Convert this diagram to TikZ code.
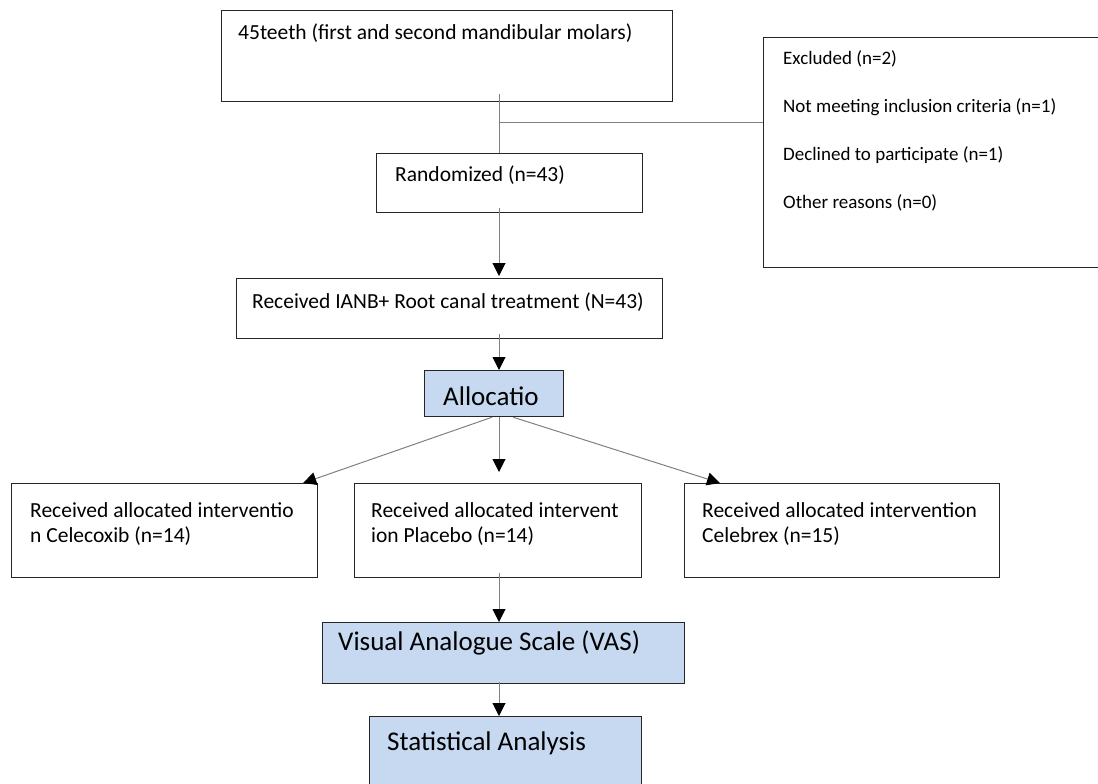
\documentclass[tikz,border=0pt]{standalone}
\usepackage{fontspec}
\setmainfont{Carlito}
\usepackage{xcolor}
\definecolor{boxblue}{HTML}{C6D9F1}
\definecolor{linegray}{HTML}{808080}
\usetikzlibrary{arrows.meta, positioning, calc}
\tikzset{%
    box/.style={%
        draw=black!85, line width=1.2pt, anchor=north west, inner sep=0
    },
    bluebox/.style={%
        box, fill=boxblue
    },
    txt/.style={%
        anchor=west, inner sep=0, align=left, font=\fontsize{21.5}{25}\selectfont
    },
    smalltxt/.style={%
        txt, font=\fontsize{19}{48}\selectfont
    },
    bigtxt/.style={%
        txt, font=\fontsize{27}{32}\selectfont
    },
    conn/.style={%
        draw=linegray, line width=1pt
    },
    flow/.style={%
        conn, -{Triangle[width=13pt, length=13pt, color=black]}
    }
}

\begin{document}
\begin{tikzpicture}[x=1pt, y=-1pt]
    \useasboundingbox (0,0) rectangle (1098,784);

    % boxes
    \node[box, minimum width=451, minimum height=91] (teeth) at (221,10) {};
    \node[box, minimum width=340, minimum height=230] (excl) at (763,37) {};
    \node[box, minimum width=266, minimum height=59] (rnd) at (376,153) {};
    \node[box, minimum width=426, minimum height=60] (ianb) at (236,278) {};
    \node[bluebox, minimum width=139, minimum height=46] (alloc) at (424,370) {};
    \node[box, minimum width=306, minimum height=94] (celecoxib) at (11,483) {};
    \node[box, minimum width=287, minimum height=94] (placebo) at (354,483) {};
    \node[box, minimum width=315, minimum height=94] (celebrex) at (684,483) {};
    \node[bluebox, minimum width=362, minimum height=61] (vas) at (322,622) {};
    \node[bluebox, minimum width=272, minimum height=90] (stat) at (369,716) {};

    % texts
    \node[txt] (teethtxt) at (238,33) {45teeth (first and second mandibular molars)};
    \node[smalltxt] (excltxt) at (783,131) {Excluded (n=2)\\Not meeting inclusion criteria (n=1)\\Declined to participate (n=1)\\Other reasons (n=0)};
    \node[txt] (rndtxt) at (395,175) {Randomized (n=43)};
    \node[txt] (ianbtxt) at (252,302) {Received IANB+ Root canal treatment (N=43)};
    \node[bigtxt] (alloctxt) at (443,396) {Allocatio};
    \node[txt] (celecoxibtxt) at (30,524.5) {Received allocated interventio\\n Celecoxib (n=14)};
    \node[txt] (placebotxt) at (371,524.5) {Received allocated intervent\\ion Placebo (n=14)};
    \node[txt] (celebrextxt) at (702,524.5) {Received allocated intervention\\Celebrex (n=15)};
    \node[bigtxt] (vastxt) at (338,643) {Visual Analogue Scale (VAS)};
    \node[bigtxt] (stattxt) at (387,743) {Statistical Analysis};

    % connectors
    \coordinate (split) at (499,122);
    \draw[conn] ($(teeth.south -| split)+(0,-8)$) -- (rnd.north -| split);
    \draw[conn] (split) -- (split -| excl.west);
    \draw[flow, shorten >=2pt] ($(rnd.south -| split)+(0,-5)$) -- (ianb.north -| split);
    \draw[flow] ($(ianb.south -| split)+(0,-5)$) -- (alloc.north -| split);
    \draw[flow] ($(alloc.south)+(-2,0)$) -- ($(celecoxib.north east)+(-15,0)$);
    \draw[flow, shorten >=11pt] (alloc.south -| split) -- (placebo.north -| split);
    \draw[flow] ($(alloc.south)+(19,0)$) -- ($(celebrex.north west)+(36,0)$);
    \draw[flow] ($(placebo.south -| split)+(0,-5)$) -- (vas.north -| split);
    \draw[flow] ($(vas.south -| split)+(0,-2)$) -- (stat.north -| split);
\end{tikzpicture}
\end{document}
